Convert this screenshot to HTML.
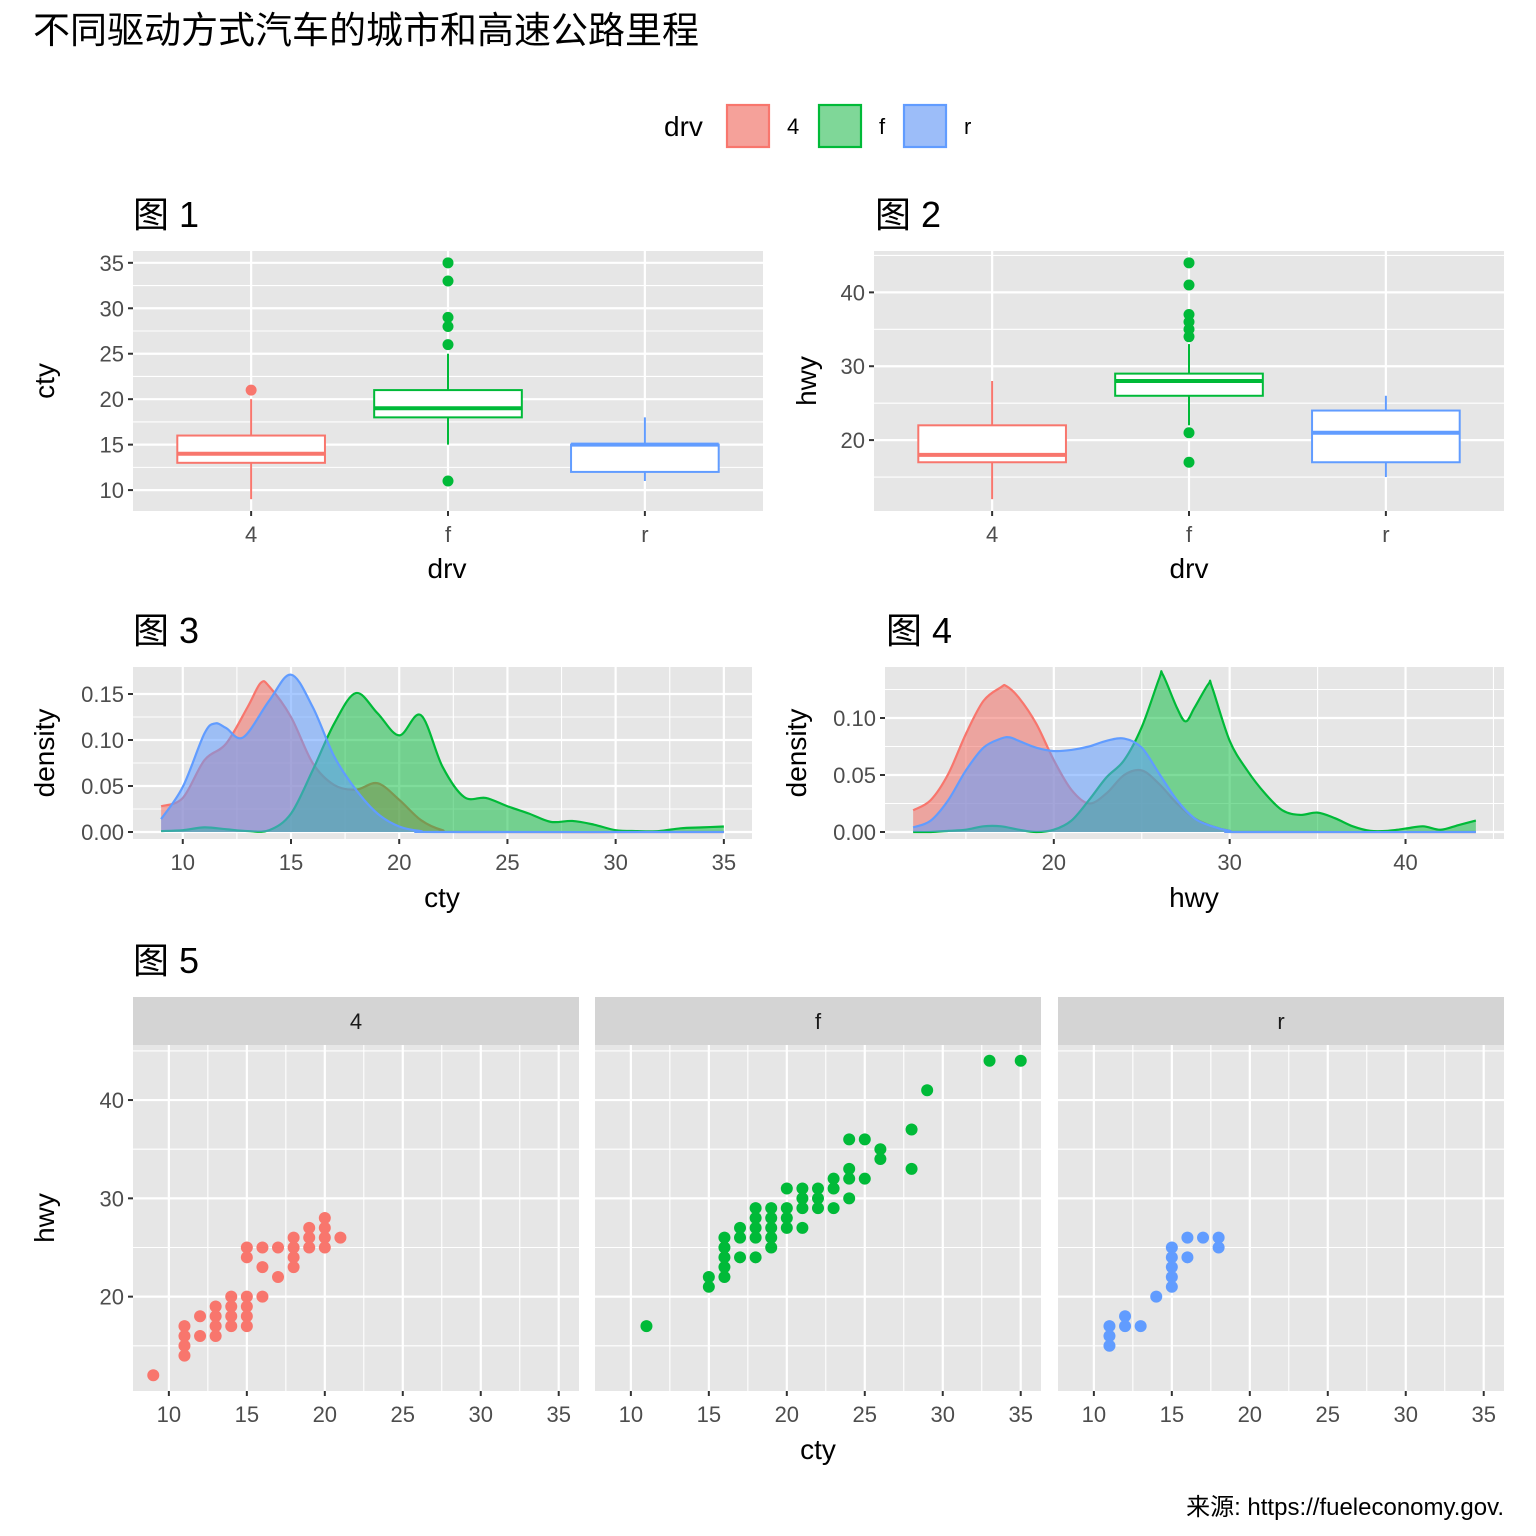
<!DOCTYPE html>
<html><head><meta charset="utf-8"><style>
html,body{margin:0;padding:0;background:#fff;}
svg{display:block;font-family:"Liberation Sans","Noto Sans CJK SC",sans-serif;}
</style></head><body>
<svg id="chart" width="1536" height="1536" viewBox="0 0 1536 1536" xmlns="http://www.w3.org/2000/svg">
<text x="33" y="43" font-size="37" fill="#000">不同驱动方式汽车的城市和高速公路里程</text>
<g>
<text x="664" y="136" font-size="28" fill="#000">drv</text>
<rect x="727" y="105" width="42" height="42" fill="rgba(240,110,100,0.65)" stroke="#F8766D" stroke-width="2.2"/>
<text x="787" y="134" font-size="22" fill="#000">4</text>
<rect x="819" y="105" width="42" height="42" fill="rgba(0,176,50,0.5)" stroke="#00BA38" stroke-width="2.2"/>
<text x="879" y="134" font-size="22" fill="#000">f</text>
<rect x="904" y="105" width="42" height="42" fill="rgba(90,145,245,0.6)" stroke="#619CFF" stroke-width="2.2"/>
<text x="964" y="134" font-size="22" fill="#000">r</text>
</g>
<text x="133" y="227" font-size="36">图 1</text>
<text x="875" y="227" font-size="36">图 2</text>
<text x="133" y="643" font-size="36">图 3</text>
<text x="886" y="643" font-size="36">图 4</text>
<text x="133" y="973" font-size="36">图 5</text>
<text x="1504" y="1515" font-size="24" text-anchor="end">来源: https://fueleconomy.gov.</text>
</svg>
<script>
// ---------- data ----------
const drvCats = ['4','f','r'];
const drvColors = ['#F8766D','#00BA38','#619CFF'];
// boxplot cty
const ctyLo = [9,15,11];
const ctyQ1 = [13,18,12];
const ctyMed = [14,19,15];
const ctyQ3 = [16,21,15];
const ctyHi = [20,25,18];
const ctyOut4 = [21];
const ctyOutF = [26,28,29,33,35,11];
const ctyOutR = [];
// boxplot hwy
const hwyLo = [12,22,15];
const hwyQ1 = [17,26,17];
const hwyMed = [18,28,21];
const hwyQ3 = [22,29,24];
const hwyHi = [28,33,26];
const hwyOut4 = [];
const hwyOutF = [17,21,34,35,36,37,41,44];
const hwyOutR = [];
// density cty
const dCtyX4 = [9,10,11,12,13,13.6,14,15,16,17,18,19,20,21,22,23,35];
const dCtyY4 = [0.028,0.037,0.078,0.096,0.136,0.162,0.158,0.125,0.075,0.051,0.046,0.053,0.035,0.013,0.002,0,0];
const dCtyXF = [9,10,11,12,13,14,15,16,17,18,19,20,21,22,23,24,25,26,27,28,29,30,31,32,33,34,35];
const dCtyYF = [0.001,0.002,0.005,0.003,0.001,0.002,0.020,0.067,0.118,0.151,0.129,0.105,0.127,0.071,0.038,0.037,0.028,0.020,0.011,0.012,0.008,0.002,0.001,0.001,0.004,0.005,0.006];
const dCtyXR = [9,10,11,11.5,12,12.8,14,15,16,17,18,19,20,21,22,35];
const dCtyYR = [0.014,0.049,0.107,0.118,0.113,0.103,0.143,0.171,0.136,0.082,0.046,0.020,0.006,0.001,0,0];
// density hwy
const dHwyX4 = [12,13,14,15,16,17,17.3,18,19,20,21,22,23,24,25,26,27,28,29,30,31,44];
const dHwyY4 = [0.019,0.028,0.051,0.086,0.115,0.127,0.128,0.118,0.095,0.063,0.037,0.025,0.034,0.050,0.054,0.042,0.025,0.012,0.005,0.001,0,0];
const dHwyXF = [12,13,14,15,16,17,18,19,20,21,22,23,24,25,26,26.2,27,27.5,28,28.8,29,30,31,32,33,34,35,36,37,38,39,40,41,42,43,44];
const dHwyYF = [0,0,0.001,0.002,0.005,0.005,0.002,0,0.002,0.010,0.028,0.048,0.063,0.092,0.135,0.138,0.109,0.097,0.109,0.130,0.127,0.080,0.054,0.034,0.019,0.015,0.017,0.012,0.005,0.001,0.001,0.003,0.005,0.002,0.006,0.010];
const dHwyXR = [12,13,14,15,16,17,17.5,18,19,20,21,22,23,24,25,26,27,28,29,30,31,44];
const dHwyYR = [0.004,0.010,0.028,0.054,0.074,0.082,0.083,0.080,0.074,0.071,0.072,0.075,0.080,0.082,0.074,0.051,0.028,0.012,0.005,0.001,0,0];
// scatter
const sc4Cty = [9,11,11,11,11,12,12,13,13,13,13,14,14,14,14,15,15,15,15,15,15,16,16,16,17,17,18,18,18,18,19,19,19,20,20,20,20,21];
const sc4Hwy = [12,17,16,15,14,18,16,19,18,17,16,20,19,18,17,25,24,20,19,18,17,25,23,20,25,22,26,25,24,23,27,26,25,28,27,26,25,26];
const scFCty = [11,33,35,29,28,28,24,25,26,26,24,24,25,23,23,23,24,22,22,22,21,21,21,21,20,20,20,20,19,19,19,19,19,18,18,18,18,18,17,17,17,16,16,16,16,16,15,15];
const scFHwy = [17,44,44,41,37,33,36,36,35,34,33,32,32,32,31,29,30,31,30,29,31,30,29,27,31,29,28,27,29,28,27,26,25,29,28,27,26,24,27,26,24,26,25,24,23,22,22,21];
const scRCty = [11,11,11,12,12,13,14,15,15,15,15,15,16,16,17,18,18];
const scRHwy = [17,16,15,18,17,17,20,25,24,23,22,21,26,24,26,26,25];

// ---------- helpers ----------
const NS='http://www.w3.org/2000/svg';
const svg=document.getElementById('chart');
function mk(tag,attrs,parent){const e=document.createElementNS(NS,tag);for(const k in attrs)e.setAttribute(k,attrs[k]);(parent||svg).appendChild(e);return e;}
function lin(d0,d1,r0,r1){return v=>r0+(v-d0)*(r1-r0)/(d1-d0);}
function smooth(pts){let d='M'+pts[0][0]+','+pts[0][1];for(let i=0;i<pts.length-1;i++){const p0=pts[i-1]||pts[i],p1=pts[i],p2=pts[i+1],p3=pts[i+2]||p2;const c1x=p1[0]+(p2[0]-p0[0])/6,c1y=p1[1]+(p2[1]-p0[1])/6,c2x=p2[0]-(p3[0]-p1[0])/6,c2y=p2[1]-(p3[1]-p1[1])/6;d+=' C'+c1x+','+c1y+' '+c2x+','+c2y+' '+p2[0]+','+p2[1];}return d;}
const TICK='#4D4D4D';

function panel(name,x0,y0,x1,y1,xs,ys,xMaj,xMin,yMaj,yMin,xLabels,yLabels,showY){
  const g=mk('g',{});
  
  
  const bg=mk('rect',{x:x0,y:y0,width:x1-x0,height:y1-y0,fill:'#E6E6E6'},g);
  
  
  yMin.forEach(v=>{const l=mk('line',{x1:x0,x2:x1,y1:ys(v),y2:ys(v),stroke:'#fff','stroke-width':1.1},g);
    
    });
  xMin.forEach(v=>{const l=mk('line',{x1:xs(v),x2:xs(v),y1:y0,y2:y1,stroke:'#fff','stroke-width':1.1},g);
    
    });
  yMaj.forEach((v,i)=>{const l=mk('line',{x1:x0,x2:x1,y1:ys(v),y2:ys(v),stroke:'#fff','stroke-width':2.2},g);
    
    
    if(showY){const t=mk('line',{x1:x0-5,x2:x0,y1:ys(v),y2:ys(v),stroke:'#333','stroke-width':2},svg);
      
      
      const lb=mk('text',{x:x0-9,y:ys(v)+8,'font-size':22,fill:TICK,'text-anchor':'end'},svg);lb.textContent=yLabels[i];
      
      }});
  xMaj.forEach((v,i)=>{const l=mk('line',{x1:xs(v),x2:xs(v),y1:y0,y2:y1,stroke:'#fff','stroke-width':2.2},g);
    
    
    const t=mk('line',{x1:xs(v),x2:xs(v),y1:y1,y2:y1+5,stroke:'#333','stroke-width':2},svg);
    
    
    const lb=mk('text',{x:xs(v),y:y1+31,'font-size':22,fill:TICK,'text-anchor':'middle'},svg);lb.textContent=xLabels[i];
    
    });
  return g;
}
function axisTitle(txt,x,y,rot,name){const t=mk('text',{x:x,y:y,'font-size':28,fill:'#000','text-anchor':'middle',transform:rot?'rotate(-90 '+x+' '+y+')':''});t.textContent=txt;
  
  }

function boxplot(name,x0,y0,x1,y1,yd0,yd1,lo,q1,med,q3,hi,outs,yMaj,yMin,ticks){
  const xs=lin(0.4,3.6,x0,x1), ys=lin(yd0,yd1,y1,y0);
  const g=panel(name,x0,y0,x1,y1,xs,ys,[1,2,3],[],yMaj,yMin,drvCats,ticks,true);
  for(let i=0;i<3;i++){
    const cx=xs(i+1),hw=0.375*(xs(2)-xs(1)),c=drvColors[i];
    const w1=mk('line',{x1:cx,x2:cx,y1:ys(hi[i]),y2:ys(q3[i]),stroke:c,'stroke-width':2},g);
    
    
    const w2=mk('line',{x1:cx,x2:cx,y1:ys(q1[i]),y2:ys(lo[i]),stroke:c,'stroke-width':2},g);
    
    
    const b=mk('rect',{x:cx-hw,y:ys(q3[i]),width:2*hw,height:ys(q1[i])-ys(q3[i]),fill:'#fff',stroke:c,'stroke-width':2},g);
    
    
    const m=mk('line',{x1:cx-hw,x2:cx+hw,y1:ys(med[i]),y2:ys(med[i]),stroke:c,'stroke-width':4},g);
    
    
    outs[i].forEach(v=>{const o=mk('circle',{cx:cx,cy:ys(v),r:5.5,fill:c},g);
      
      });
  }
}
boxplot('panel-1-cty-boxplot',133,251,763,511,7.7,36.3,ctyLo,ctyQ1,ctyMed,ctyQ3,ctyHi,[ctyOut4,ctyOutF,ctyOutR],[10,15,20,25,30,35],[12.5,17.5,22.5,27.5,32.5],['10','15','20','25','30','35']);
axisTitle('cty',54,381,true,'panel-1-y-title');axisTitle('drv',447,578,false,'panel-1-x-title');
boxplot('panel-2-hwy-boxplot',874,251,1504,511,10.4,45.6,hwyLo,hwyQ1,hwyMed,hwyQ3,hwyHi,[hwyOut4,hwyOutF,hwyOutR],[20,30,40],[15,25,35,45],['20','30','40']);
axisTitle('hwy',816,381,true,'panel-2-y-title');axisTitle('drv',1189,578,false,'panel-2-x-title');

function density(name,x0,y0,x1,y1,xd0,xd1,pxPerUnit,xMaj,xMin,xl,yMaj,yMin,yl,series){
  const xs=lin(xd0,xd1,x0,x1), ys=v=>832-v*pxPerUnit;
  const g=panel(name,x0,y0,x1,y1,xs,ys,xMaj,xMin,yMaj,yMin,xl,yl,true);
  const fills=['rgba(240,110,100,0.55)','rgba(0,186,56,0.5)','rgba(97,156,255,0.55)'];
  series.forEach((s,i)=>{
    const pts=s[0].map((x,j)=>[xs(x),ys(s[1][j])]);
    const line=smooth(pts);
    const a=mk('path',{d:line+' L'+pts[pts.length-1][0]+','+ys(0)+' L'+pts[0][0]+','+ys(0)+' Z',fill:fills[i],stroke:'none'},g);
    
    
    const l=mk('path',{d:line,fill:'none',stroke:drvColors[i],'stroke-width':2.2},g);
    
    
  });
}
density('panel-3-cty-density',133,667,752,839,7.7,36.3,920,[10,15,20,25,30,35],[12.5,17.5,22.5,27.5,32.5],['10','15','20','25','30','35'],[0,0.05,0.1,0.15],[0.025,0.075,0.125],['0.00','0.05','0.10','0.15'],[[dCtyX4,dCtyY4],[dCtyXF,dCtyYF],[dCtyXR,dCtyYR]]);
axisTitle('cty',442,907,false,'panel-3-x-title');axisTitle('density',54,753,true,'panel-3-y-title');
density('panel-4-hwy-density',885,667,1504,839,10.4,45.6,1140,[20,30,40],[15,25,35,45],['20','30','40'],[0,0.05,0.1],[0.025,0.075,0.125],['0.00','0.05','0.10'],[[dHwyX4,dHwyY4],[dHwyXF,dHwyYF],[dHwyXR,dHwyYR]]);
axisTitle('hwy',1194,907,false,'panel-4-x-title');axisTitle('density',806,753,true,'panel-4-y-title');

const facetX=[133,595,1058];
const facetData=[[sc4Cty,sc4Hwy],[scFCty,scFHwy],[scRCty,scRHwy]];
facetX.forEach((fx,i)=>{
  const x0=fx,x1=fx+446,y0=1045,y1=1391;
  const xs=lin(7.7,36.3,x0,x1), ys=lin(10.4,45.6,y1,y0);
  const strip=mk('rect',{x:x0,y:997,width:446,height:48,fill:'#D4D4D4'});
  
  
  const st=mk('text',{x:x0+223,y:1029,'font-size':22,fill:'#1A1A1A','text-anchor':'middle'});st.textContent=drvCats[i];
  
  
  const g=panel('panel-5-facet-'+drvCats[i],x0,y0,x1,y1,xs,ys,[10,15,20,25,30,35],[12.5,17.5,22.5,27.5,32.5],[20,30,40],[15,25,35,45],['10','15','20','25','30','35'],['20','30','40'],i===0);
  facetData[i][0].forEach((c,j)=>{const p=mk('circle',{cx:xs(c),cy:ys(facetData[i][1][j]),r:6,fill:drvColors[i]},g);
    
    });
});
axisTitle('cty',818,1459,false,'panel-5-x-title');axisTitle('hwy',54,1218,true,'panel-5-y-title');
</script>
</body></html>
